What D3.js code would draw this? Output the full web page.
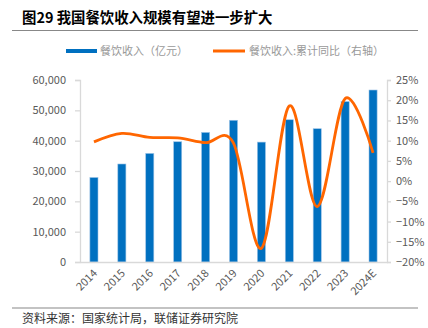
<!DOCTYPE html>
<html><head><meta charset="utf-8">
<script src="https://cdn.jsdelivr.net/npm/d3@7"></script>
<style>body{margin:0;background:#fff}svg{display:block}</style>
</head><body><svg id="c" width="428" height="328"></svg>
<script>
const categories = ["2014","2015","2016","2017","2018","2019","2020","2021","2022","2023","2024E"];
const revenue = [27860, 32310, 35799, 39644, 42716, 46721, 39527, 46895, 43941, 52890, 56700];
const growth = [9.7, 11.8, 10.8, 10.7, 9.5, 9.4, -16.6, 18.6, -6.3, 20.4, 7.0];
const leftTicks = [0, 10000, 20000, 30000, 40000, 50000, 60000];
const rightTicks = [-20, -15, -10, -5, 0, 5, 10, 15, 20, 25];
const title = "图29 我国餐饮收入规模有望进一步扩大";
const legendNames = ["餐饮收入（亿元）", "餐饮收入:累计同比（右轴）"];
const source = "资料来源：国家统计局，联储证券研究院";

const svg = d3.select("#c");
const font = "'Noto Sans CJK SC', 'Noto Sans', sans-serif";
const m = {l: 80, r: 387, t: 80, b: 262};
const x = d3.scaleBand().domain(categories).range([m.l, m.r]).paddingInner(0.71).paddingOuter(0.355);
const yL = d3.scaleLinear().domain([0, 60000]).range([m.b, m.t]);
const yR = d3.scaleLinear().domain([-20, 25]).range([m.b, m.t]);

// title
svg.append("text").attr("x", 22).attr("y", 23).attr("font-family", font).attr("font-weight", "bold")
  .attr("font-size", 14.4).attr("fill", "#000").text(title);
svg.append("line").attr("x1", 12).attr("x2", 418).attr("y1", 30.5).attr("y2", 30.5).attr("stroke", "#888").attr("stroke-width", 1.2);

// legend
svg.append("rect").attr("x", 66).attr("y", 49).attr("width", 31).attr("height", 4).attr("fill", "#0070C0");
svg.append("text").attr("x", 100).attr("y", 55).attr("font-family", font).attr("font-size", 11).attr("fill", "#999").text(legendNames[0]);
svg.append("line").attr("x1", 213).attr("x2", 245).attr("y1", 51).attr("y2", 51).attr("stroke", "#FF6600").attr("stroke-width", 3);
svg.append("text").attr("x", 249).attr("y", 55).attr("font-family", font).attr("font-size", 11).attr("fill", "#999").text(legendNames[1]);

// bars
svg.append("g").selectAll("rect").data(categories).join("rect")
  .attr("x", d => x(d)).attr("width", x.bandwidth())
  .attr("y", (d, i) => yL(revenue[i])).attr("height", (d, i) => yL(0) - yL(revenue[i]))
  .attr("fill", "#0070C0").attr("stroke", "#9CC3E6").attr("stroke-width", 0.6);

// axes
const axisColor = "#d9d9d9", labelColor = "#595959";
const gL = svg.append("g").attr("transform", `translate(${m.l},0)`)
  .call(d3.axisLeft(yL).tickValues(leftTicks).tickSize(5).tickPadding(9).tickFormat(d3.format(",")));
const gR = svg.append("g").attr("transform", `translate(${m.r},0)`)
  .call(d3.axisRight(yR).tickValues(rightTicks).tickSize(4).tickPadding(5).tickFormat(d => d3.format("d")(d).replace("-", "−") + "%"));
const gB = svg.append("g").attr("transform", `translate(0,${m.b})`)
  .call(d3.axisBottom(x).tickSize(0).tickPadding(0));
[gL, gR, gB].forEach(g => {
  g.select(".domain").attr("stroke", axisColor).attr("stroke-width", 1.3);
  g.selectAll(".tick line").attr("stroke", axisColor).attr("stroke-width", 1.3);
  g.selectAll("text").attr("fill", labelColor).attr("font-family", font).attr("font-size", 11);
});
gB.selectAll("text").attr("text-anchor", "end").attr("dy", 0)
  .attr("transform", "translate(4,12) rotate(-45)");

// line
const line = d3.line().x((d, i) => x(categories[i]) + x.bandwidth() / 2).y(d => yR(d)).curve(d3.curveCatmullRom.alpha(0));
svg.append("path").datum(growth).attr("d", line).attr("fill", "none").attr("stroke", "#FF6600").attr("stroke-width", 2.8);

// source
svg.append("line").attr("x1", 12).attr("x2", 418).attr("y1", 308).attr("y2", 308).attr("stroke", "#888").attr("stroke-width", 1.2);
svg.append("text").attr("x", 22).attr("y", 323).attr("font-family", font).attr("font-size", 12).attr("fill", "#333").text(source);
</script></body></html>
